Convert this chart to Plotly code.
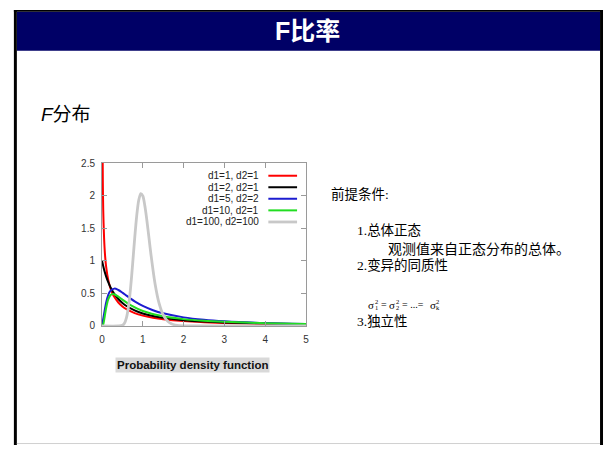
import plotly.graph_objects as go

W, H = 607, 451

# ---------------- data ----------------
legend_labels = ["d1=1, d2=1", "d1=2, d2=1", "d1=5, d2=2", "d1=10, d2=1", "d1=100, d2=100"]
colors = ["#ff0000", "#000000", "#1c1cd0", "#22dd22", "#c8c8c8"]
widths = [2, 2, 2, 2, 2.8]

x_red = [0.01, 0.02, 0.03, 0.05, 0.075, 0.1, 0.15, 0.2, 0.25, 0.3, 0.4, 0.5, 0.6, 0.8, 1, 1.25, 1.5, 2, 2.5, 3, 4, 5]
y_red = [3.15, 2.21, 1.78, 1.36, 1.08, 0.915, 0.715, 0.593, 0.509, 0.447, 0.360, 0.300, 0.257, 0.198, 0.159, 0.127, 0.104, 0.075, 0.058, 0.046, 0.032, 0.024]

x_black = [0, 0.05, 0.1, 0.15, 0.2, 0.3, 0.4, 0.5, 0.6, 0.8, 1, 1.25, 1.5, 2, 2.5, 3, 4, 5]
y_black = [1.0, 0.867, 0.761, 0.675, 0.604, 0.494, 0.414, 0.354, 0.306, 0.239, 0.192, 0.153, 0.125, 0.089, 0.068, 0.054, 0.037, 0.027]

x_blue = [0, 0.05, 0.1, 0.15, 0.2, 0.3, 0.4, 0.5, 0.6, 0.7, 0.8, 1, 1.25, 1.5, 2, 2.5, 3, 4, 5]
y_blue = [0, 0.183, 0.358, 0.471, 0.535, 0.573, 0.552, 0.511, 0.465, 0.420, 0.378, 0.308, 0.242, 0.194, 0.132, 0.095, 0.072, 0.045, 0.031]

x_green = [0, 0.03, 0.05, 0.1, 0.15, 0.2, 0.25, 0.3, 0.4, 0.5, 0.7, 1, 1.5, 2, 2.5, 3, 4, 5]
y_green = [0, 0.024, 0.083, 0.272, 0.403, 0.468, 0.489, 0.487, 0.451, 0.404, 0.319, 0.230, 0.149, 0.105, 0.079, 0.063, 0.043, 0.031]

x_gray = [0, 0.4, 0.5, 0.55, 0.6, 0.65, 0.7, 0.75, 0.8, 0.85, 0.9, 0.95, 1.0, 1.05, 1.1, 1.15, 1.2, 1.3, 1.4, 1.5, 1.6, 1.7, 1.8, 2.0, 2.5, 3, 4, 5]
y_gray = [0, 0, 0.010, 0.042, 0.128, 0.302, 0.581, 0.945, 1.338, 1.687, 1.929, 2.032, 1.995, 1.844, 1.619, 1.359, 1.097, 0.649, 0.346, 0.170, 0.079, 0.035, 0.015, 0.0025, 0, 0, 0, 0]

x_ticks = [0, 1, 2, 3, 4, 5]
y_ticks = [0, 0.5, 1, 1.5, 2, 2.5]
y_tick_text = ["0", "0.5", "1", "1.5", "2", "2.5"]

series_x = [x_red, x_black, x_blue, x_green, x_gray]
series_y = [y_red, y_black, y_blue, y_green, y_gray]

# ---------------- helpers ----------------
def px(x):
    return x / W

def py(y):
    return 1 - y / H

fig = go.Figure()
for xs, ys, c, w, name in zip(series_x, series_y, colors, widths, legend_labels):
    fig.add_trace(go.Scatter(x=xs, y=ys, mode="lines", name=name,
                             line=dict(color=c, width=w, shape="spline", smoothing=0.8),
                             showlegend=False, hoverinfo="skip"))

axis_common = dict(showline=True, linecolor="#9a9a9a", linewidth=1, mirror="ticks",
                   ticks="inside", ticklen=5, tickcolor="#9a9a9a", tickwidth=1,
                   showgrid=False, zeroline=False,
                   tickfont=dict(family="Liberation Sans, Arial", size=10, color="#333333"))

fig.update_layout(
    width=W, height=H, autosize=False,
    margin=dict(l=0, r=0, t=0, b=0),
    paper_bgcolor="white", plot_bgcolor="white",
    xaxis=dict(domain=[px(100), px(306)], range=[0, 5], tickvals=x_ticks,
               ticklabelstandoff=4, **axis_common),
    yaxis=dict(domain=[py(329), py(162)], range=[0, 2.5], tickvals=y_ticks,
               ticktext=y_tick_text, ticklabelstandoff=4, **axis_common),
)

shapes = []
# slide frame
shapes.append(dict(type="rect", xref="paper", yref="paper", x0=px(14), x1=px(603), y0=py(47), y1=py(7),
                   fillcolor="#000066", line=dict(width=0), layer="above"))
shapes.append(dict(type="rect", xref="paper", yref="paper", x0=px(11), x1=px(606), y0=py(7), y1=py(5),
                   fillcolor="black", line=dict(width=0), layer="above"))
shapes.append(dict(type="rect", xref="paper", yref="paper", x0=px(11), x1=px(14), y0=py(451), y1=py(5),
                   fillcolor="black", line=dict(width=0), layer="above"))
shapes.append(dict(type="rect", xref="paper", yref="paper", x0=px(603), x1=px(606), y0=py(451), y1=py(5),
                   fillcolor="black", line=dict(width=0), layer="above"))
shapes.append(dict(type="line", xref="paper", yref="paper", x0=px(14), x1=px(603), y0=py(449.5), y1=py(449.5),
                   line=dict(color="#d0d0d0", width=1)))

annotations = []
# legend (text right-aligned, sample line on the right)
leg_y = [175, 186.8, 198.6, 210.5, 222.4]
for lab, c, w, yy in zip(legend_labels, colors, widths, leg_y):
    annotations.append(dict(xref="paper", yref="paper", x=px(261), y=py(yy), text=lab, showarrow=False,
                            xanchor="right", yanchor="middle",
                            font=dict(family="Liberation Sans, Arial", size=10, color="#222222")))
    shapes.append(dict(type="line", xref="paper", yref="paper", x0=px(268), x1=px(297), y0=py(yy), y1=py(yy),
                       line=dict(color=c, width=w)))

def ann(text, x, y, size, family, color="black", xanchor="left", **kw):
    annotations.append(dict(xref="paper", yref="paper", x=px(x), y=py(y), text=text, showarrow=False,
                            xanchor=xanchor, yanchor="middle",
                            font=dict(family=family, size=size, color=color), **kw))

SANS = "Liberation Sans, Noto Sans CJK SC"
SERIF = "Liberation Serif, Noto Sans CJK SC"

ann("<b>F比率</b>", 308, 27, 25, SANS, color="white", xanchor="center")
ann("<i>F</i>分布", 36, 112, 19, SANS)
ann("<b>Probability density function</b>", 191, 369, 11.5, "Liberation Sans, Arial", color="#111111",
    xanchor="center", bgcolor="#d9d9d9", borderpad=1)

ann("前提条件:", 329, 194, 13.5, SERIF)
ann("1.总体正态", 356, 231, 13.5, SERIF)
ann("观测值来自正态分布的总体。", 387, 251, 14, SERIF)
ann("2.变异的同质性", 356, 267, 13.5, SERIF)
ann("3.独立性", 356, 324, 13.5, SERIF)

# formula  sigma_1^2 = sigma_2^2 = ...= sigma_k^2 (stacked scripts)
fy = 307
FS, SS = 11, 6.5
ann("σ", 367, fy, FS, "Liberation Serif")
ann("2", 373.5, fy - 3.5, SS, "Liberation Serif")
ann("1", 373.5, fy + 3.5, SS, "Liberation Serif")
ann("=", 380, fy, 10, "Liberation Serif")
ann("σ", 388, fy, FS, "Liberation Serif")
ann("2", 394.5, fy - 3.5, SS, "Liberation Serif")
ann("2", 394.5, fy + 3.5, SS, "Liberation Serif")
ann("= ...=", 401, fy, 10, "Liberation Serif")
ann("σ", 429, fy, FS, "Liberation Serif")
ann("2", 435.5, fy - 3.5, SS, "Liberation Serif")
ann("k", 435.5, fy + 3.5, SS, "Liberation Serif")

fig.update_layout(shapes=shapes, annotations=annotations)
fig.write_html("out.html",
               config={"displayModeBar": False, "responsive": False},
               post_script=("document.documentElement.style.margin='0';"
                            "document.body.style.margin='0';document.body.style.padding='0';"
                            "document.body.style.overflow='hidden';"
                            "var d=document.getElementById('{plot_id}');"
                            "d.style.position='fixed';d.style.left='0px';d.style.top='0px';"))
